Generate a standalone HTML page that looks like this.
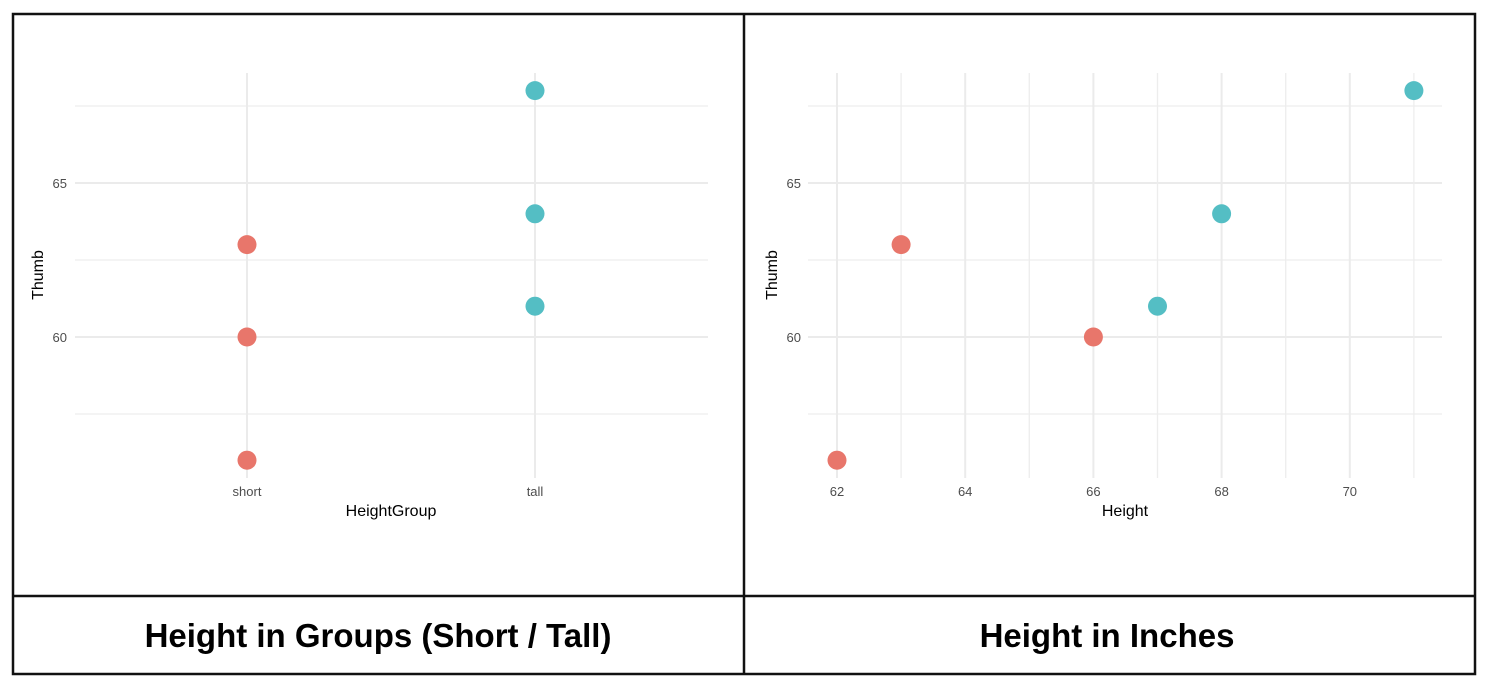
<!DOCTYPE html>
<html><head><meta charset="utf-8"><style>
body{margin:0;width:1490px;height:700px;background:#fff;overflow:hidden;font-family:"Liberation Sans",sans-serif}
svg{position:absolute;left:0;top:0}
</style></head><body>
<svg width="1490" height="700">
<g id="frame">
<rect x="13" y="14" width="1462" height="660" fill="none" stroke="#111" stroke-width="2.5"/>
<line x1="744" y1="14" x2="744" y2="674" stroke="#111" stroke-width="2.5"/>
<line x1="13" y1="596" x2="1475" y2="596" stroke="#111" stroke-width="2.5"/>
<text x="378" y="647" text-anchor="middle" font-size="33" font-weight="bold" fill="#000">Height in Groups (Short / Tall)</text>
<text x="1107" y="647" text-anchor="middle" font-size="33" font-weight="bold" fill="#000">Height in Inches</text>
</g>
<g id="left"></g>
<g id="right"></g>
</svg>
<script>
const groupCats=["short","tall"];
const groupX=["short","short","short","tall","tall","tall"];
const groupY=[63,60,56,68,64,61];
const inchX=[62,63,66,67,68,71];
const inchY=[56,63,60,61,64,68];
const pointColors=["#e8766b","#e8766b","#e8766b","#54bec4","#54bec4","#54bec4"];
const yTicks=[60,65];
const yMinor=[57.5,62.5,67.5];
const xTicks=[62,64,66,68,70];
const xMinor=[63,65,67,69,71];
(function(){
const NS="http://www.w3.org/2000/svg";
function mk(p,t,a){const e=document.createElementNS(NS,t);for(const k in a)e.setAttribute(k,a[k]);p.appendChild(e);return e;}
const y=v=>337-(v-60)*30.8;
const yTop=73,yBot=478;
function yAxis(g,x0,x1,lx){
 yMinor.forEach(v=>{const l=mk(g,'line',{x1:x0,x2:x1,y1:y(v),y2:y(v),stroke:'#ededed','stroke-width':1.3});
 
 });
 yTicks.forEach(v=>{const l=mk(g,'line',{x1:x0,x2:x1,y1:y(v),y2:y(v),stroke:'#ebebeb','stroke-width':2});
 
 
 const t=mk(g,'text',{x:lx,y:y(v)+5,'text-anchor':'end','font-size':13,fill:'#4d4d4d'});t.textContent=v;
 
 });
}
function pt(g,cx,cy,c){const e=mk(g,'circle',{cx:cx,cy:cy,r:9.5,fill:c});
 
 }
const L=document.getElementById('left');
const gx=c=>247+groupCats.indexOf(c)*288;
yAxis(L,75,708,67);
groupCats.forEach(c=>{const l=mk(L,'line',{x1:gx(c),x2:gx(c),y1:yTop,y2:yBot,stroke:'#ebebeb','stroke-width':2});
 
 
 const t=mk(L,'text',{x:gx(c),y:496,'text-anchor':'middle','font-size':13,fill:'#4d4d4d'});t.textContent=c;
 
 });
groupX.forEach((c,i)=>pt(L,gx(c),y(groupY[i]),pointColors[i]));
let t=mk(L,'text',{x:391,y:516,'text-anchor':'middle','font-size':16,fill:'#000'});t.textContent='HeightGroup';


t=mk(L,'text',{x:0,y:0,'text-anchor':'middle','font-size':16,fill:'#000',transform:'translate(43,275) rotate(-90)'});t.textContent='Thumb';


const R=document.getElementById('right');
const ix=v=>837+(v-62)*64.1;
yAxis(R,808,1442,801);
xMinor.forEach(v=>{const l=mk(R,'line',{x1:ix(v),x2:ix(v),y1:yTop,y2:yBot,stroke:'#ededed','stroke-width':1.3});
 
 });
xTicks.forEach(v=>{const l=mk(R,'line',{x1:ix(v),x2:ix(v),y1:yTop,y2:yBot,stroke:'#ebebeb','stroke-width':2});
 
 
 const tt=mk(R,'text',{x:ix(v),y:496,'text-anchor':'middle','font-size':13,fill:'#4d4d4d'});tt.textContent=v;
 
 });
inchX.forEach((v,i)=>pt(R,ix(v),y(inchY[i]),pointColors[i]));
t=mk(R,'text',{x:1125,y:516,'text-anchor':'middle','font-size':16,fill:'#000'});t.textContent='Height';


t=mk(R,'text',{x:0,y:0,'text-anchor':'middle','font-size':16,fill:'#000',transform:'translate(777,275) rotate(-90)'});t.textContent='Thumb';


})();
</script>
</body></html>
